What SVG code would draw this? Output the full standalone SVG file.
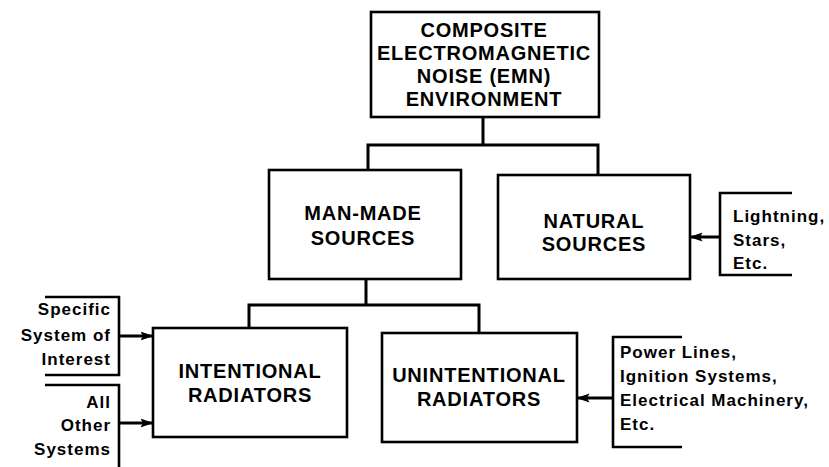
<svg xmlns="http://www.w3.org/2000/svg" width="829" height="467" viewBox="0 0 829 467">
<defs>
<marker id="arr" viewBox="0 0 13 10" refX="12.5" refY="5" markerWidth="13" markerHeight="10" markerUnits="userSpaceOnUse" orient="auto">
<path d="M0,0.5 L13,5 L0,9.5 L2.5,5 z" fill="#000"/>
</marker>
<style>
.box{fill:#fff;stroke:#000;stroke-width:2.6}
.ln{fill:none;stroke:#000;stroke-width:3;stroke-linecap:square}
.br{fill:none;stroke:#000;stroke-width:2.6}
.big{font-family:"Liberation Sans",Arial,Helvetica,sans-serif;font-weight:bold;font-size:20px;letter-spacing:0.8px;text-anchor:middle;fill:#000}
.sm{font-family:"Liberation Sans",Arial,Helvetica,sans-serif;font-weight:bold;font-size:17px;letter-spacing:1px;fill:#000}
.r{text-anchor:end}
</style>
</defs>
<rect width="829" height="467" fill="#fff"/>
<g id="connectors">
<path class="ln" d="M483,117 V145 M368,145 H598 M368,145 V170 M598,145 V175"/>
<path class="ln" d="M366,279 V305 M249,305 H479 M249,305 V328 M479,305 V333"/>
<line class="ln" x1="120" y1="336" x2="153" y2="336" marker-end="url(#arr)"/>
<line class="ln" x1="120" y1="423" x2="153" y2="423" marker-end="url(#arr)"/>
<line class="ln" x1="719" y1="237" x2="690" y2="237" marker-end="url(#arr)"/>
<line class="ln" x1="612" y1="398" x2="577" y2="398" marker-end="url(#arr)"/>
</g>
<g id="emn">
<rect class="box" x="371" y="12" width="228" height="105"/>
<text class="big" x="484" y="37">COMPOSITE</text>
<text class="big" x="484" y="60">ELECTROMAGNETIC</text>
<text class="big" x="484" y="83">NOISE (EMN)</text>
<text class="big" x="484" y="106">ENVIRONMENT</text>
</g>
<g id="manmade">
<rect class="box" x="269" y="170" width="192" height="109"/>
<text class="big" x="363" y="220">MAN-MADE</text>
<text class="big" x="363" y="245">SOURCES</text>
</g>
<g id="natural">
<rect class="box" x="498" y="175" width="192" height="104"/>
<text class="big" x="594" y="228">NATURAL</text>
<text class="big" x="594" y="251">SOURCES</text>
</g>
<g id="intentional">
<rect class="box" x="153" y="328" width="194" height="109"/>
<text class="big" x="250" y="378">INTENTIONAL</text>
<text class="big" x="250" y="402">RADIATORS</text>
</g>
<g id="unintentional">
<rect class="box" x="382" y="333" width="195" height="109"/>
<text class="big" x="479" y="382">UNINTENTIONAL</text>
<text class="big" x="479" y="406">RADIATORS</text>
</g>
<g id="specific">
<path class="br" d="M45,297 H119 V375 H45"/>
<text class="sm r" x="111" y="315">Specific</text>
<text class="sm r" x="111" y="341">System of</text>
<text class="sm r" x="111" y="365">Interest</text>
</g>
<g id="allother">
<path class="br" d="M45,385 H119 V467"/>
<text class="sm r" x="111" y="408">All</text>
<text class="sm r" x="111" y="431">Other</text>
<text class="sm r" x="111" y="455">Systems</text>
</g>
<g id="lightning">
<path class="br" d="M792,193 H720 V275 H792"/>
<text class="sm" x="733" y="222">Lightning,</text>
<text class="sm" x="733" y="246">Stars,</text>
<text class="sm" x="733" y="269">Etc.</text>
</g>
<g id="power">
<path class="br" d="M682,337 H613 V447 H682"/>
<text class="sm" x="620" y="358">Power Lines,</text>
<text class="sm" x="620" y="382">Ignition Systems,</text>
<text class="sm" x="620" y="406">Electrical Machinery,</text>
<text class="sm" x="620" y="430">Etc.</text>
</g>
</svg>
